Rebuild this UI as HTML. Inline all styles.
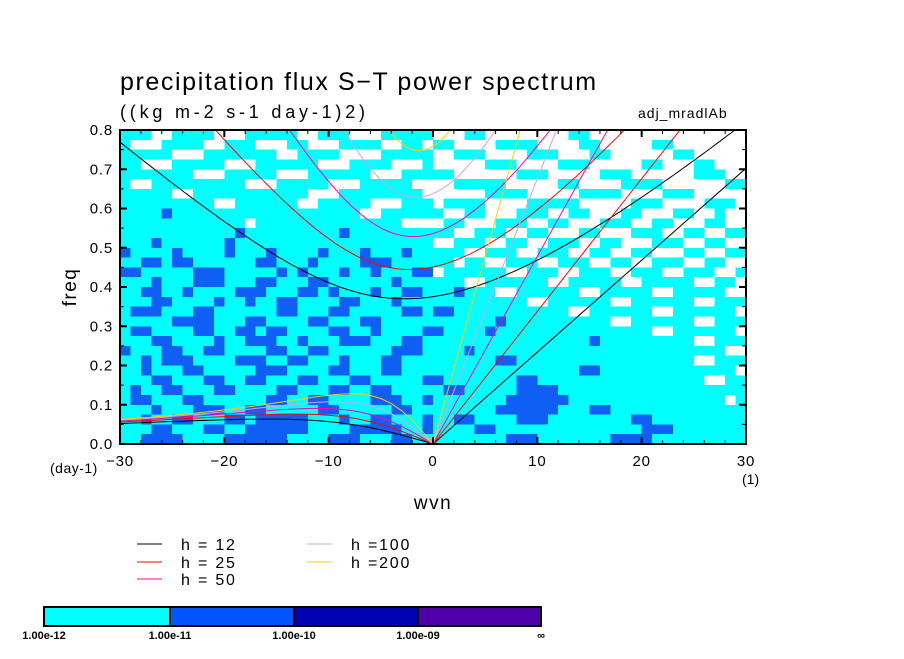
<!DOCTYPE html>
<html><head><meta charset="utf-8">
<style>
html,body{margin:0;padding:0;background:#fff;}
svg text{font-family:"Liberation Sans",sans-serif;fill:#000;}
</style></head>
<body>
<svg id="chart" width="904" height="654" viewBox="0 0 904 654" xmlns="http://www.w3.org/2000/svg">
<text x="120" y="90" font-size="25" letter-spacing="1.6">precipitation flux S−T power spectrum</text>
<text x="120" y="118" font-size="18" letter-spacing="3.8">((kg m-2 s-1 day-1)2)</text>
<text x="638" y="118" font-size="14" letter-spacing="1">adj_mradlAb</text>
<g id="field"></g>
<g id="curves"></g>
<g id="axes"></g>
<text x="0" y="0" font-size="19" letter-spacing="1.5" transform="translate(76,287) rotate(-90)" text-anchor="middle">freq</text>
<text x="433" y="509" font-size="19" letter-spacing="1.5" text-anchor="middle">wvn</text>
<text x="50" y="473" font-size="14" letter-spacing="0.5">(day-1)</text>
<text x="742" y="484" font-size="14">(1)</text>
<g id="legend"></g>
<g id="colorbar"></g>
</svg>
<script>
const hValues=[12,25,50,100,200];
const hColors=["#000000","#ff0000","#ff00aa","#d8a0e0","#ffcc00"];
const xTicks=[-30,-20,-10,0,10,20,30];
const yTicks=[0,0.1,0.2,0.3,0.4,0.5,0.6,0.7,0.8];
const cbLabels=["1.00e-12","1.00e-11","1.00e-10","1.00e-09","∞"];
const cbColors=["#00ffff","#0055ff","#0000b4","#5000aa"];
const fieldColors=["#ffffff","#00ffff","#0f5ff5"];
const fieldRows=[
"111001111000111110011100011111000110000000011000000000000000",
"100011110011100011000111100110110000111100001100000110000000",
"111110001111111001111000011111001110000111000110000001100000",
"110001111100011111100011110001000001110000111000001100011000",
"111111100011111000111111000111110000001110000011100000011100",
"100111111111000111110001111100001111100000110000111100000011",
"111110011111111111000111111110000001111000001111000011100000",
"111111111001111110011111000111011110000111110000011100001110",
"111121111111111111111110011111100110001110011000110001100100",
"111111111111011111111111111000011000111001100011100110001100",
"111111111112111111111211111111110011100110001100011100110011",
"111211111121111111111111111111001110011001110011000111001100",
"211112111121112111121112111211111001110011100110011000110011",
"112212211111122111211112221111110110011100111001100111001100",
"221111122211111212111211211122011111100111001110011100111001",
"111211122211122111221111112111111001111110011111001111100110",
"112211211112221112212111211221112111001111110011111001111100",
"111221111211211221111221112111111111111001111110011111100111",
"122211122111111221112211111221221111111111100111111001111110",
"111112222111221111221112211111111111211111111110011111100111",
"122111122112212211112211211112211112111111111111111001111110",
"111221111211222112111222111221111111111111111211111111100111",
"211122112211112211221111112221111211111111111111111111111100",
"112122211112221122111211122111111111221111111111111111100111",
"112111221111122211112211122111111111111111112211111111111110",
"111221112211221112211122111112211111112211111111111111110011",
"121122111221111221112211221111122111112222111111111111111111",
"122111221111112211221111222112111111122222211111111111111101",
"111211122211221111122111112211111111222222111221111111111111",
"112112211122122222111211221112112211112221111111122111111111",
"111221112211222222111122222112111122111111111111112221111111",
"112222111122222211112221112211111111122211111112222111111111"];

const X0=120,X1=746,Y0=444,Y1=130,XMIN=-30,XMAX=30,YMIN=0,YMAX=0.8;
const sx=v=>X0+(v-XMIN)/(XMAX-XMIN)*(X1-X0);
const sy=v=>Y0-(v-YMIN)/(YMAX-YMIN)*(Y0-Y1);
const NS="http://www.w3.org/2000/svg";
function mk(tag,attrs,parent){const e=document.createElementNS(NS,tag);for(const k in attrs)e.setAttribute(k,attrs[k]);parent.appendChild(e);return e;}

// field
const field=document.getElementById('field');
const nr=fieldRows.length,nc=fieldRows[0].length;
const dx=(XMAX-XMIN)/nc,dy=(YMAX-YMIN)/nr;
for(let r=0;r<nr;r++){for(let c=0;c<nc;c++){
  const v=+fieldRows[r][c];
  const x=sx(XMIN+c*dx),y=sy(YMAX-r*dy);
  const rc=mk('rect',{x:x,y:y,width:sx(XMIN+(c+1)*dx)-x+0.6,height:sy(YMAX-(r+1)*dy)-y+0.6,fill:fieldColors[v],'shape-rendering':'crispEdges'},field);
  
  
}}

// dispersion curves (Matsuno)
const beta=2.289e-11,R=6.371e6,g=9.81;
const toF=w=>w*86400/(2*Math.PI);
function solve(s,c,n,w0){const k=s/R;const A=k*k*c*c+(2*n+1)*beta*c,B=beta*k*c*c;let w=w0;
  for(let i=0;i<60;i++){const f=w*w*w-A*w-B,d=3*w*w-A;w=w-f/d;}return w;}
const curves=document.getElementById('curves');
mk('clipPath',{id:'pc'},curves).appendChild(document.createElementNS(NS,'rect'));
const cr=curves.querySelector('clipPath rect');cr.setAttribute('x',X0);cr.setAttribute('y',Y1);cr.setAttribute('width',X1-X0);cr.setAttribute('height',Y0-Y1);
function poly(pts,col,name){const p=mk('polyline',{points:pts.map(q=>sx(q[0]).toFixed(1)+','+sy(q[1]).toFixed(1)).join(' '),fill:'none',stroke:col,'stroke-width':1,'clip-path':'url(#pc)'},curves);
  }
hValues.forEach((h,i)=>{
  const c=Math.sqrt(g*h),col=hColors[i];
  const ig=[];for(let s=-30;s<=30;s+=0.25){const k=s/R;ig.push([s,toF(solve(s,c,1,Math.sqrt(k*k*c*c+3*beta*c)*1.5+1e-5))]);}
  poly(ig,col,'ig-wave-curve-h'+h);
  const kw=[[0,0],[30,toF(30/R*c)]];poly(kw,col,'kelvin-wave-curve-h'+h);
  const er=[];for(let s=-30;s<=0;s+=1){er.push([s,toF(Math.max(0,solve(s,c,1,-beta*(s/R)/((s/R)**2+3*beta/c)+1e-12)))]);}
  poly(er,col,'rossby-wave-curve-h'+h);
});

// axes
const ax=document.getElementById('axes');
const fr=mk('rect',{x:X0,y:Y1,width:X1-X0,height:Y0-Y1,fill:'none',stroke:'#000','stroke-width':2},ax);

for(let v=XMIN;v<=XMAX;v+=2){const x=sx(v),maj=v%10===0,L=maj?7:4;
  mk('line',{x1:x,y1:Y0,x2:x,y2:Y0-L,stroke:'#000','stroke-width':maj?2:1},ax);
  mk('line',{x1:x,y1:Y1,x2:x,y2:Y1+L,stroke:'#000','stroke-width':maj?2:1},ax);}
for(let i=0;i<=16;i++){const v=i*0.05,y=sy(v),maj=i%2===0,L=maj?7:4;
  mk('line',{x1:X0,y1:y,x2:X0+L,y2:y,stroke:'#000','stroke-width':maj?2:1},ax);
  mk('line',{x1:X1,y1:y,x2:X1-L,y2:y,stroke:'#000','stroke-width':maj?2:1},ax);}
xTicks.forEach(v=>{const t=mk('text',{x:sx(v),y:Y0+22,'font-size':15,'letter-spacing':0.8,'text-anchor':'middle'},ax);t.textContent=v<0?'−'+(-v):String(v);
  });
yTicks.forEach(v=>{const t=mk('text',{x:X0-7,y:sy(v)+5,'font-size':15,'letter-spacing':0.8,'text-anchor':'end'},ax);t.textContent=v.toFixed(1);
  });

// legend
const lg=document.getElementById('legend');
const lpos=[[137,544],[137,562],[137,579],[307,544],[307,562]];
hValues.forEach((h,i)=>{const [x,y]=lpos[i];
  const ln=mk('line',{x1:x,y1:y,x2:x+25,y2:y,stroke:hColors[i],'stroke-width':1},lg);
  
  const t=mk('text',{x:x+44,y:y+6,'font-size':16,'letter-spacing':1.8},lg);t.textContent=h>=100?'h ='+h:'h =\u00a0'+h;
  });

// colorbar
const cb=document.getElementById('colorbar');
const cbx=[44,170,294,418,541];
cbColors.forEach((col,i)=>{const r=mk('rect',{x:cbx[i],y:607,width:cbx[i+1]-cbx[i],height:19,fill:col,stroke:'#000','stroke-width':2},cb);
  });
cbLabels.forEach((s,i)=>{const t=mk('text',{x:cbx[i],y:639,'font-size':11,'font-weight':'bold','text-anchor':'middle'},cb);t.textContent=s;
  });
</script>
</body></html>
